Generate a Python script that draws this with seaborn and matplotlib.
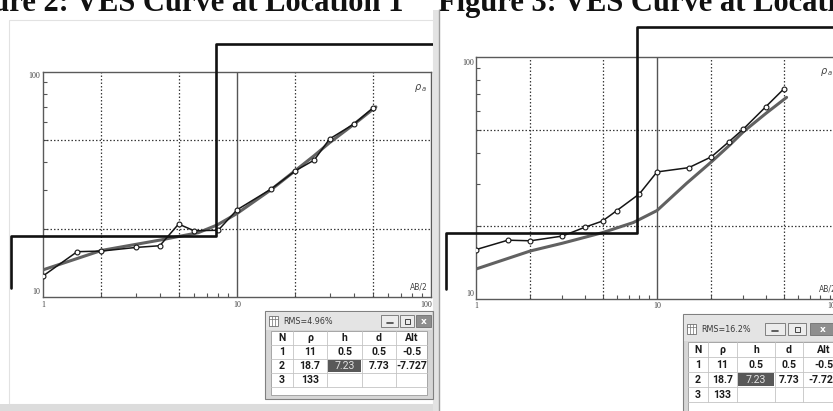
import matplotlib
matplotlib.use("Agg")
import matplotlib.pyplot as plt
import seaborn as sns
from matplotlib.patches import Rectangle
from matplotlib.lines import Line2D
from matplotlib.ticker import LogLocator, NullFormatter, NullLocator
from matplotlib.transforms import Bbox, TransformedBbox

W, H = 833, 411

# VES sounding data
ab2 = [1, 1.5, 2, 3, 4, 5, 6, 8, 10, 15, 20, 25, 30, 40, 50]
rho_obs_1 = [12.4, 15.9, 16.0, 16.6, 16.9, 21.1, 19.7, 19.8, 24.4, 30.2, 36.4, 40.6, 50.4, 58.7, 69.0]
rho_obs_2 = [16.0, 17.5, 17.4, 18.2, 19.8, 21.0, 23.2, 27.2, 33.5, 34.9, 38.7, 44.7, 50.4, 62.4, 73.6]

ab2_calc_1 = [1, 2, 4, 6.3, 7.9, 10, 15, 20, 25, 30, 40, 52]
rho_calc_1 = [13.2, 16.1, 17.9, 19.3, 20.9, 23.5, 30.0, 36.5, 42.5, 48.5, 58.5, 70.0]
ab2_calc_2 = [1, 2, 3, 5, 7.4, 10, 14.6, 20, 25, 30, 40, 52]
rho_calc_2 = [13.3, 15.8, 17.0, 18.8, 20.7, 23.2, 30.1, 36.9, 43.0, 49.1, 58.5, 68.1]

# layered model (as drawn) and the result table
model_rho = [11, 18.7, 133]
model_bounds = [0.68, 7.75]
tbl_cols = ["N", "ρ", "h", "d", "Alt"]
tbl_n = ["1", "2", "3"]
tbl_rho = ["11", "18.7", "133"]
tbl_h = ["0.5", "7.23", ""]
tbl_d = ["0.5", "7.73", ""]
tbl_alt = ["-0.5", "-7.727", ""]
rms_labels = ["RMS=4.96%", "RMS=16.2%"]
captions = ["Figure 2: VES Curve at Location 1", "Figure 3: VES Curve at Location 2"]

sns.set_style("white")
plt.rcParams["font.family"] = ["DejaVu Sans"]

fig = plt.figure(figsize=(W / 100, H / 100), dpi=100)


def px_rect(x0, y0, x1, y1):
    return [x0 / W, 1 - y1 / H, (x1 - x0) / W, (y1 - y0) / H]


def prect(x0, y0, x1, y1, **kw):
    r = Rectangle((x0 / W, 1 - y1 / H), (x1 - x0) / W, (y1 - y0) / H,
                  transform=fig.transFigure, **kw)
    fig.add_artist(r)


def pline(x0, y0, x1, y1, **kw):
    fig.add_artist(Line2D([x0 / W, x1 / W], [1 - y0 / H, 1 - y1 / H],
                          transform=fig.transFigure, **kw))


def ptext(x, y, s, **kw):
    fig.text(x / W, 1 - y / H, s, **kw)


def draw_panel(rect, obs, cx, cy, clip, xlab_dy, ylab_off, corner_pos, ab_pos, ab_ha):
    ax = fig.add_axes(px_rect(*rect))
    ax.set_xscale("log")
    ax.set_yscale("log")
    ax.set_xlim(1, 100)
    ax.set_ylim(10, 100)
    ax.xaxis.set_major_locator(NullLocator())
    ax.yaxis.set_major_locator(NullLocator())
    ax.xaxis.set_minor_locator(LogLocator(subs=range(2, 10)))
    ax.yaxis.set_minor_locator(LogLocator(subs=range(2, 10)))
    ax.xaxis.set_minor_formatter(NullFormatter())
    ax.yaxis.set_minor_formatter(NullFormatter())
    ax.tick_params(which="minor", direction="in", length=3, width=0.8, color="#555555",
                   bottom=True, left=True, top=False, right=False)
    for s in ax.spines.values():
        s.set_color("#5a5a5a")
        s.set_linewidth(1.0)

    # grid
    for v in [2, 5, 20, 50]:
        ax.axvline(v, color="#3a3a3a", lw=0.9, ls=(0, (1.2, 1.6)), zorder=1)
    ax.axvline(10, color="#555555", lw=1.0, zorder=1)
    for h in [20, 50]:
        ax.axhline(h, color="#3a3a3a", lw=0.9, ls=(0, (1.2, 1.6)), zorder=1)

    # calculated curve, observed curve
    sns.lineplot(x=cx, y=cy, ax=ax, color="#616161", lw=2.2, zorder=3)
    sns.lineplot(x=ab2, y=obs, ax=ax, color="#151515", lw=1.1, marker="o", ms=3.5,
                 markerfacecolor="white", markeredgecolor="#151515", mew=0.8, zorder=4)

    # layered model, drawn past the axes up to the panel border
    mx = [model_bounds[0], model_bounds[0], model_bounds[1], model_bounds[1], 1000]
    my = [model_rho[0], model_rho[1], model_rho[1], model_rho[2], model_rho[2]]
    sns.lineplot(x=mx, y=my, ax=ax, sort=False, estimator=None, color="#111111",
                 lw=1.9, zorder=5)
    ln = ax.lines[-1]
    ln.set_clip_on(True)
    ln.set_clip_path(None)
    ln.set_clip_box(TransformedBbox(Bbox.from_extents(clip[0] / W, 1 - clip[3] / H,
                                                      clip[2] / W, 1 - clip[1] / H),
                                    fig.transFigure))

    # tick labels
    tk = dict(fontsize=5.8, color="#444444", family="Liberation Serif",
              textcoords="offset pixels", annotation_clip=False)
    ax.annotate("1", xy=(1, 0), xycoords=("data", "axes fraction"), xytext=(0, xlab_dy),
                ha="center", va="center", **tk)
    ax.annotate("10", xy=(10, 0), xycoords=("data", "axes fraction"), xytext=(0, xlab_dy),
                ha="center", va="center", **tk)
    ax.annotate("100", xy=(100, 0), xycoords=("data", "axes fraction"), xytext=(1, xlab_dy),
                ha="right", va="center", **tk)
    ax.annotate("100", xy=(0, 100), xycoords=("axes fraction", "data"),
                xytext=(ylab_off[0], ylab_off[1]), ha="right", va="center", **tk)
    ax.annotate("10", xy=(0, 10), xycoords=("axes fraction", "data"),
                xytext=(ylab_off[0], 5), ha="right", va="center", **tk)

    ax.text(corner_pos[0], corner_pos[1], r"$\rho_{\,a}$", transform=ax.transAxes,
            fontsize=7, color="#444444", ha="right", va="center")
    ax.text(ab_pos[0], ab_pos[1], "AB/2", transform=ax.transAxes, fontsize=5.5,
            color="#444444", ha=ab_ha, va="center", clip_on=False)
    return ax


def draw_window(x0, y0, x1, y1, rms, cols_x, rows_y, title_y, btns):
    # window frame
    prect(x0, y0, x1, y1, facecolor="#d6d6d6", edgecolor="#808080", lw=0.8, zorder=10)
    prect(x0 + 1, y0 + 1, x1 - 1, rows_y[0] - 1, facecolor="#e4e4e4", edgecolor="none",
          zorder=10)
    # table area
    prect(cols_x[0], rows_y[0], cols_x[-1], y1 - 4, facecolor="white",
          edgecolor="#9a9a9a", lw=0.6, zorder=11)
    # icon
    ix = x0 + 4
    prect(ix, title_y - 5, ix + 9, title_y + 5, facecolor="white", edgecolor="#6f6f6f",
          lw=0.6, zorder=12)
    for k in range(1, 3):
        pline(ix + 3 * k, title_y - 5, ix + 3 * k, title_y + 5, color="#6f6f6f", lw=0.5,
              zorder=12)
    pline(ix, title_y - 2, ix + 9, title_y - 2, color="#6f6f6f", lw=0.5, zorder=12)
    ptext(ix + 14, title_y, rms, fontsize=5.8, color="#3a3a3a", va="center", ha="left",
          zorder=12)
    # caption buttons
    for i, (bx0, bx1) in enumerate(btns):
        fc = "#8e8e8e" if i == 2 else "#ececec"
        prect(bx0, title_y - 6, bx1, title_y + 6, facecolor=fc, edgecolor="#707070",
              lw=0.6, zorder=12)
        cxb = (bx0 + bx1) / 2
        if i == 0:
            pline(cxb - 3, title_y + 2, cxb + 3, title_y + 2, color="#444444", lw=1.2,
                  zorder=13)
        elif i == 1:
            prect(cxb - 2.5, title_y - 2.5, cxb + 2.5, title_y + 2.5, facecolor="none",
                  edgecolor="#444444", lw=0.7, zorder=13)
        else:
            ptext(cxb, title_y, "x", fontsize=6.5, color="white", fontweight="bold",
                  ha="center", va="center", zorder=13)
    # grid
    for x in cols_x[1:-1]:
        pline(x, rows_y[0], x, rows_y[-1], color="#c4c4c4", lw=0.6, zorder=12)
    for y in rows_y[1:]:
        pline(cols_x[0], y, cols_x[-1], y, color="#c4c4c4", lw=0.6, zorder=12)
    # highlighted cell (row 2, h)
    prect(cols_x[2] + 1, rows_y[2] + 1, cols_x[3] - 1, rows_y[3] - 1, facecolor="#585858",
          edgecolor="none", zorder=12)
    tf = dict(fontsize=7.6, fontweight="bold", color="#1c1c1c", ha="center", va="center",
              family=["Roboto", "DejaVu Sans"], zorder=13)
    cols = [tbl_n, tbl_rho, tbl_h, tbl_d, tbl_alt]
    for j, name in enumerate(tbl_cols):
        xc = (cols_x[j] + cols_x[j + 1]) / 2
        ptext(xc, (rows_y[0] + rows_y[1]) / 2, name, **tf)
        for i in range(3):
            yc = (rows_y[i + 1] + rows_y[i + 2]) / 2
            s = cols[j][i]
            if i == 1 and j == 2:
                ptext(xc, yc, s, **{**tf, "color": "#e2e2e2", "fontweight": "normal"})
            else:
                ptext(xc, yc, s, **tf)


# ---- panel frames ----
prect(9, 20, 433, 404, facecolor="white", edgecolor="#e2e2e2", lw=0.8, zorder=0)
prect(433, 10, 439, 411, facecolor="#e3e3e3", edgecolor="none", zorder=9)
pline(439.5, 10, 439.5, 411, color="#9c9c9c", lw=1.0, zorder=9)
prect(0, 404, 433, 411, facecolor="#dcdcdc", edgecolor="none", zorder=9)

# ---- plots ----
draw_panel((43, 72, 431, 297), rho_obs_1, ab2_calc_1, rho_calc_1,
           clip=(10, 20, 433, 403), xlab_dy=-8, ylab_off=(-3, -4),
           corner_pos=(0.99, 0.93), ab_pos=(0.992, 0.044), ab_ha="right")
draw_panel((476, 57, 838, 299), rho_obs_2, ab2_calc_2, rho_calc_2,
           clip=(441, 10, 833, 411), xlab_dy=-7, ylab_off=(-2, -6),
           corner_pos=(0.985, 0.94), ab_pos=(0.948, 0.041), ab_ha="left")

# ---- result windows ----
draw_window(265, 311, 433, 399, rms_labels[0],
            cols_x=[271, 293, 327, 362, 396, 427],
            rows_y=[331, 345, 359, 373, 387], title_y=321,
            btns=[(381, 398), (400, 414), (416, 431)])
draw_window(683, 314, 850, 420, rms_labels[1],
            cols_x=[688, 708, 737, 775, 803, 845],
            rows_y=[342, 357, 372, 387, 402], title_y=329,
            btns=[(765, 785), (788, 806), (810, 835)])

# ---- cropped captions at the top ----
ptext(403, 11, captions[0], ha="right", va="baseline", fontsize=22, fontweight="bold",
      family="Liberation Serif", color="#111111")
ptext(438, 11, captions[1], ha="left", va="baseline", fontsize=22, fontweight="bold",
      family="Liberation Serif", color="#111111")

fig.savefig("out.png", dpi=100)
